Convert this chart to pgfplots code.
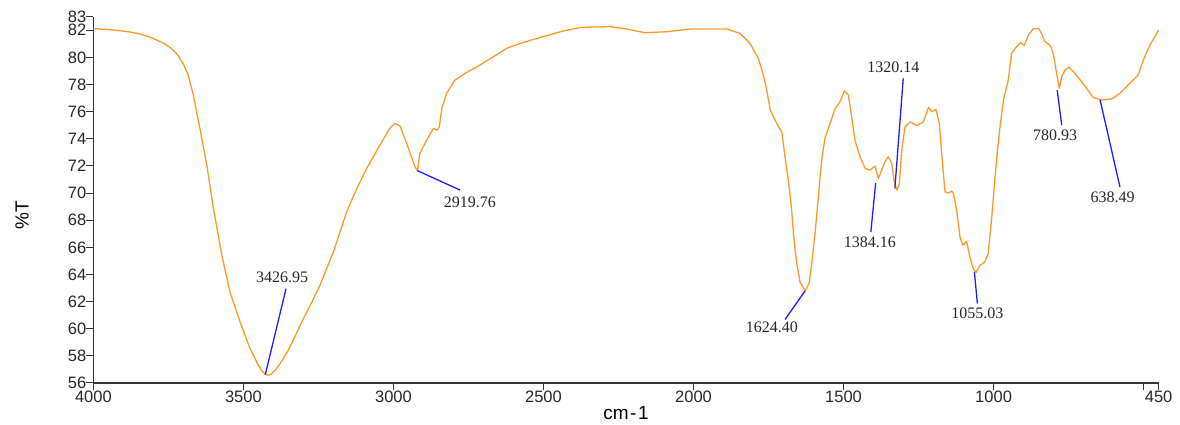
\documentclass[border=0pt]{standalone}
\usepackage{pgfplots}
\pgfplotsset{compat=1.18}
\usepackage{fontspec}
\setmainfont{Liberation Sans}
\newfontfamily\serifl{Liberation Serif}
\definecolor{spec}{RGB}{255,152,40}
\definecolor{ann}{RGB}{30,30,255}
\begin{document}
\begin{tikzpicture}
\useasboundingbox (-93.4pt,-42pt) rectangle (1086.6pt,383pt);
\begin{axis}[
  scale only axis, width=1065.2pt, height=366.3pt,
  x dir=reverse, xmin=450, xmax=4000, ymin=56, ymax=83,
  axis x line*=bottom, axis y line*=left,
  axis line style={-, line width=1.1pt, black!80},
  tick align=outside, major tick length=7pt,
  tick style={line width=1pt, black!80},
  xtick={4000,3500,3000,2500,2000,1500,1000,500,450},
  xticklabels={4000,3500,3000,2500,2000,1500,1000,,450},
  ytick={56,58,60,62,64,66,68,70,72,74,76,78,80,82,83},
  /pgf/number format/assume math mode=true,
  tick label style={font=\fontsize{16.5}{18}\selectfont, text=black!85},
  xticklabel style={inner sep=0pt, yshift=-1pt},
  yticklabel style={inner sep=0pt},
  xlabel={cm\hspace{1.5pt}-\hspace{1.5pt}1},
  ylabel={\%T},
  every axis x label/.style={at={(axis description cs:0.5,-0.082)}, anchor=center, font=\fontsize{19}{21}\selectfont},
  every axis y label/.style={at={(axis description cs:-0.067,0.459)}, anchor=center, rotate=90, font=\fontsize{19}{21}\selectfont},
  clip=false,
]
\addplot[spec, line width=1.3pt, mark=none, line join=round] coordinates {
(4000,82.12) (3950,82.05) (3911,81.97) (3875,81.86) (3845,81.72) (3815,81.52) (3789,81.28)
(3765,81.02) (3745,80.74) (3730,80.45) (3717,80.12) (3700,79.50)
(3684,78.70) (3667,77.22) (3645,74.77) (3622,72.06) (3600,68.87) (3572,65.42)
(3545,62.71) (3511,60.50) (3478,58.54) (3462,57.85) (3450,57.31) (3438,56.90) (3427,56.62)
(3416,56.58) (3406,56.69) (3390,57.05)
(3367,57.80) (3350,58.45) (3334,59.15) (3300,60.75) (3272,61.95) (3245,63.21) (3200,65.66) (3156,68.61)
(3122,70.34) (3089,71.82) (3045,73.54) (3012,74.77) (2995,75.14) (2978,74.95)
(2956,73.65) (2928,71.93) (2920,71.65) (2912,72.92) (2895,73.66) (2867,74.77)
(2854,74.64) (2847,74.89) (2839,76.24) (2823,77.35) (2795,78.33) (2756,78.90)
(2712,79.44) (2667,80.05) (2623,80.67) (2567,81.11) (2501,81.53) (2434,81.95)
(2373,82.22) (2278,82.26) (2223,82.09) (2162,81.82) (2089,81.89) (2012,82.09)
(1889,82.09) (1845,81.77) (1812,81.04) (1784,79.93) (1767,78.70) (1756,77.60)
(1745,76.20) (1739,75.87) (1723,75.14) (1706,74.52) (1695,72.67) (1684,70.95)
(1673,68.74) (1665,66.53) (1656,64.81) (1645,63.45) (1628,62.80) (1615,63.33)
(1606,64.81) (1595,67.02) (1584,69.72) (1573,72.43) (1562,74.03) (1545,75.14)
(1528,76.24) (1512,76.73) (1497,77.54) (1484,77.22) (1473,75.62) (1462,73.90)
(1445,72.67) (1428,71.82) (1412,71.69) (1395,71.99) (1384,71.08) (1373,71.69)
(1362,72.30) (1351,72.67) (1339,72.18) (1332,70.95) (1322,70.21) (1314,70.71)
(1306,73.17) (1295,74.89) (1278,75.25) (1256,74.96) (1234,75.25) (1217,76.32)
(1206,75.99) (1192,76.17) (1181,75.14) (1173,72.92) (1162,70.09) (1150,70.00)
(1140,70.15) (1134,70.00) (1123,68.74) (1112,66.77) (1103,66.16) (1090,66.45)
(1079,65.30) (1068,64.44) (1058,64.15) (1045,64.68) (1029,64.93) (1018,65.55)
(1006,68.25) (995,71.20) (987,73.17) (978,75.00) (967,76.86) (951,78.33)
(940,80.30) (923,80.79) (910,81.11) (898,80.86) (884,81.65) (868,82.09)
(851,82.14) (840,81.77) (829,81.16) (812,80.91) (801,80.30) (792,79.07)
(781,77.72) (773,78.57) (762,79.07) (748,79.27) (729,78.82) (701,78.04)
(668,77.05) (640,76.86) (606,76.93) (579,77.35) (540,78.21) (518,78.70)
(501,79.81) (479,80.91) (450,82.02)
};
\draw[ann, line width=1.3pt] (axis cs:3427,56.62) -- (axis cs:3358,62.96);
\draw[ann, line width=1.3pt] (axis cs:2920,71.65) -- (axis cs:2778,70.22);
\draw[ann, line width=1.3pt] (axis cs:1628,62.80) -- (axis cs:1695,60.68);
\draw[ann, line width=1.3pt] (axis cs:1393,70.75) -- (axis cs:1409,67.13);
\draw[ann, line width=1.3pt] (axis cs:1329,70.34) -- (axis cs:1301,78.46);
\draw[ann, line width=1.3pt] (axis cs:1064,64.19) -- (axis cs:1054,61.86);
\draw[ann, line width=1.3pt] (axis cs:788,77.59) -- (axis cs:773,75.01);
\draw[ann, line width=1.3pt] (axis cs:645,76.86) -- (axis cs:579,70.46);
\begin{scope}[every node/.style={font=\serifl\fontsize{16}{18}\selectfont, text=black!85, inner sep=0pt}]
\node at (axis cs:3371,63.8) {3426.95};
\node at (axis cs:2745,69.35) {2919.76};
\node at (axis cs:1739,60.11) {1624.40};
\node at (axis cs:1412,66.40) {1384.16};
\node at (axis cs:1334,79.27) {1320.14};
\node at (axis cs:1054,61.12) {1055.03};
\node at (axis cs:795,74.27) {780.93};
\node at (axis cs:603,69.68) {638.49};
\end{scope}
\end{axis}
\end{tikzpicture}
\end{document}
